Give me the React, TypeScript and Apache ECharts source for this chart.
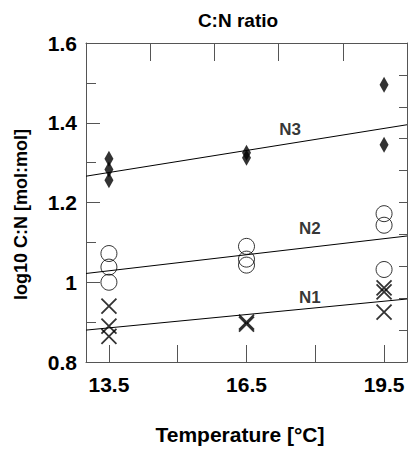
import React, { useEffect, useRef } from "react";
import * as echarts from "echarts";

const TEMPERATURES = [13.5, 16.5, 19.5];
const TICK_TEMPERATURES = [13.5, 15, 16.5, 18, 19.5];
const LABEL_TEMPERATURES = [13.5, 16.5, 19.5];

// replicate values per temperature (log10 C:N)
const N3_VALUES = [
  [1.31, 1.283, 1.256],
  [1.325, 1.312],
  [1.495, 1.345],
];
const N2_VALUES = [
  [1.072, 1.038, 1.0],
  [1.09, 1.058, 1.043],
  [1.172, 1.143, 1.032],
];
const N1_VALUES = [
  [0.94, 0.89, 0.864],
  [0.9, 0.895],
  [0.986, 0.976, 0.925],
];

// regression lines: values at x = 13 and x = 20
const FIT_X = [13, 20];
const N3_FIT = [1.266, 1.395];
const N2_FIT = [1.022, 1.116];
const N1_FIT = [0.88, 0.958];

const LINE_LABELS = ["N3", "N2", "N1"];
const LINE_LABEL_X = [17.45, 17.88, 17.88];
const LINE_LABEL_Y = [1.383, 1.135, 0.962];

const FONT = '"Liberation Sans", Arial, Helvetica, sans-serif';

function toPoints(values: number[][]) {
  return TEMPERATURES.flatMap((t, i) => values[i].map((v) => [t, v]));
}

export default function App() {
  const ref = useRef<HTMLDivElement>(null);

  useEffect(() => {
    if (!ref.current) return;
    const chart = echarts.init(ref.current, null, { renderer: "svg" });

    const fitLine = (vals: number[]) => ({
      type: "line",
      data: FIT_X.map((x, i) => [x, vals[i]]),
      symbol: "none",
      lineStyle: { color: "#000", width: 1 },
      silent: true,
      z: 1,
    });

    chart.setOption({
      animation: false,
      backgroundColor: "#fff",
      textStyle: { fontFamily: FONT },
      graphic: [
        {
          type: "text",
          x: 238,
          y: 20,
          style: {
            text: "C:N ratio",
            font: `bold 19px ${FONT}`,
            fill: "#000",
            textAlign: "center",
            textVerticalAlign: "middle",
          },
        },
      ],
      grid: { left: 86, top: 43, right: 3, bottom: 87, containLabel: false },
      xAxis: [
        {
          type: "value",
          position: "bottom",
          min: 13,
          max: 20,
          axisLine: { show: true, lineStyle: { color: "#555", width: 1 } },
          axisTick: {
            show: true,
            inside: true,
            length: 17,
            lineStyle: { color: "#555", width: 1 },
            customValues: TICK_TEMPERATURES,
          },
          axisLabel: {
            show: true,
            customValues: LABEL_TEMPERATURES,
            formatter: (v: number) => v.toFixed(1),
            color: "#000",
            fontWeight: "bold",
            fontSize: 21,
            fontFamily: FONT,
            margin: 12,
          },
          splitLine: { show: false },
          name: "Temperature [°C]",
          nameLocation: "middle",
          nameGap: 62,
          nameTextStyle: {
            color: "#000",
            fontWeight: "bold",
            fontSize: 21,
            fontFamily: FONT,
            padding: [0, 13, 0, 0],
          },
        },
        {
          type: "value",
          position: "top",
          min: 0,
          max: 5,
          interval: 1,
          axisLine: { show: true, lineStyle: { color: "#555", width: 1 } },
          axisTick: { show: true, inside: true, length: 18, lineStyle: { color: "#555", width: 1 } },
          axisLabel: { show: false },
          splitLine: { show: false },
        },
      ],
      yAxis: [
        {
          type: "value",
          position: "left",
          min: 0.8,
          max: 1.6,
          interval: 0.2,
          axisLine: { show: true, lineStyle: { color: "#555", width: 1 } },
          axisTick: { show: true, inside: true, length: 14, lineStyle: { color: "#555", width: 1 } },
          minorTick: { show: true, splitNumber: 2, length: 10, lineStyle: { color: "#555", width: 1 } },
          axisLabel: {
            color: "#000",
            fontWeight: "bold",
            fontSize: 21,
            fontFamily: FONT,
            margin: 9,
          },
          splitLine: { show: false },
          name: "log10 C:N [mol:mol]",
          nameLocation: "middle",
          nameGap: 56,
          nameTextStyle: {
            color: "#000",
            fontWeight: "bold",
            fontSize: 18,
            fontFamily: FONT,
            padding: [0, 24, 0, 0],
          },
        },
        {
          type: "value",
          position: "right",
          min: 0,
          max: 10,
          interval: 1,
          axisLine: { show: true, lineStyle: { color: "#555", width: 1 } },
          axisTick: { show: true, inside: true, length: 8, lineStyle: { color: "#555", width: 1 } },
          axisLabel: { show: false },
          splitLine: { show: false },
        },
      ],
      series: [
        fitLine(N3_FIT),
        fitLine(N2_FIT),
        fitLine(N1_FIT),
        {
          type: "scatter",
          name: "N3",
          data: toPoints(N3_VALUES),
          symbol: "diamond",
          symbolSize: [9, 16],
          itemStyle: { color: "#000" },
          z: 3,
        },
        {
          type: "scatter",
          name: "N2",
          data: toPoints(N2_VALUES),
          symbol: "circle",
          symbolSize: 16,
          itemStyle: { color: "rgba(0,0,0,0)", borderColor: "#000", borderWidth: 1 },
          z: 3,
        },
        {
          type: "scatter",
          name: "N1",
          data: toPoints(N1_VALUES),
          symbol: "path://M0,0L10,10M0,10L10,0",
          symbolSize: 15,
          itemStyle: { color: "rgba(0,0,0,0)", borderColor: "#000", borderWidth: 1.8 },
          z: 3,
        },
        {
          type: "scatter",
          name: "labels",
          data: LINE_LABELS.map((n, i) => [LINE_LABEL_X[i], LINE_LABEL_Y[i], n]),
          symbolSize: 0,
          silent: true,
          label: {
            show: true,
            position: "inside",
            formatter: (p: any) => p.value[2],
            color: "#000",
            fontWeight: "bold",
            fontSize: 17,
            fontFamily: FONT,
          },
          z: 4,
        },
      ],
    });

    return () => chart.dispose();
  }, []);

  return (
    <div
      ref={ref}
      style={{ position: "fixed", left: 0, top: 0, width: 410, height: 450, background: "#fff" }}
    />
  );
}
